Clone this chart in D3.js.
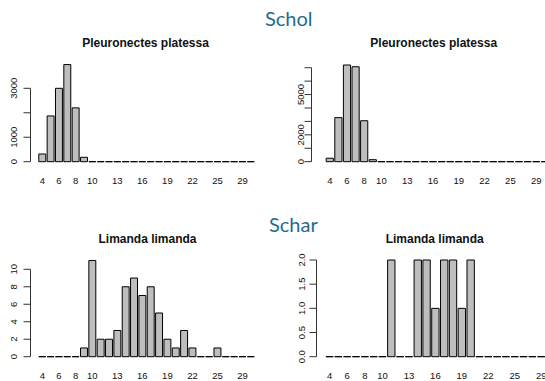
<!DOCTYPE html>
<html>
<head>
<meta charset="utf-8">
<script src="https://cdn.jsdelivr.net/npm/d3@7"></script>
<style>
  body { margin: 0; background: #fff; }
  svg { display: block; }
  .axis-label { font-family: "Liberation Sans", Arial, sans-serif; font-size: 9.5px; fill: #111; }
  .panel-title { font-family: "Liberation Sans", Arial, sans-serif; font-size: 12px; font-weight: bold; fill: #111; }
  .heading { font-family: Lato, "Open Sans", sans-serif; font-size: 20px; fill: #1f6b8e; }
</style>
</head>
<body>
<svg id="chart" width="545" height="381"></svg>
<script>
// length classes (cm) on the x axis; R drops overlapping names
const lengthClasses = [4, 5, 6, 7, 8, 9, 10, 11, 12, 13, 14, 15, 16, 17, 18, 19, 20,
                       21, 22, 23, 24, 25, 26, 27, 29, 30];
const shownNames = [4, 6, 8, 10, 13, 16, 19, 22, 25, 29];

// Schol (Pleuronectes platessa)
const scholLeft  = [315, 1870, 3000, 3970, 2200, 180, 0, 0, 0, 0, 0, 0, 0, 0, 0, 0, 0,
                    0, 0, 0, 0, 0, 0, 0, 0, 0];
const scholRight = [260, 3280, 7200, 7070, 3050, 150, 0, 0, 0, 0, 0, 0, 0, 0, 0, 0, 0,
                    0, 0, 0, 0, 0, 0, 0, 0, 0];

// Schar (Limanda limanda)
const scharLeft  = [0, 0, 0, 0, 0, 1, 11, 2, 2, 3, 8, 9, 7, 8, 5, 2, 1,
                    3, 1, 0, 0, 1, 0, 0, 0, 0];
const scharRight = [0, 0, 0, 0, 0, 0, 0, 2, 0, 0, 2, 2, 1, 2, 2, 1, 2,
                    0, 0, 0, 0, 0, 0, 0, 0, 0];

// y axis ticks and which of them get a label
const scholLeftTicks  = [0, 1000, 2000, 3000];
const scholLeftLabels = [0, 1000, 3000];
const scholRightTicks  = [0, 1000, 2000, 3000, 4000, 5000, 6000, 7000];
const scholRightLabels = [0, 2000, 5000];
const scharLeftTicks  = [0, 2, 4, 6, 8, 10];
const scharLeftLabels = [0, 2, 4, 6, 8, 10];
const scharRightTicks  = [0, 0.5, 1, 1.5, 2];
const scharRightLabels = [0, 0.5, 1, 1.5, 2];

const svg = d3.select('#chart');

// section headings
svg.append('text').attr('class', 'heading')
    .attr('x', 265).attr('y', 26).text('Schol');
svg.append('text').attr('class', 'heading')
    .attr('x', 269).attr('y', 232).text('Schar');

/**
 * Draws one R style barplot
 */
function drawPanel(p) {
    const g = svg.append('g');

    const x = d3.scaleBand()
        .domain(lengthClasses)
        .range(p.xRange)
        .paddingInner(1 / 6)
        .paddingOuter(0);

    const y = d3.scaleLinear()
        .domain([0, p.ticks[p.ticks.length - 1]])
        .range(p.yRange);

    // bars, drawn as paths so that empty classes still show as a line
    g.selectAll('path.bar')
        .data(p.values)
        .enter()
        .append('path')
        .attr('class', 'bar')
        .attr('d', (d, i) => {
            const x0 = x(lengthClasses[i]), x1 = x0 + x.bandwidth();
            return `M${x0},${y(0)}L${x0},${y(d)}L${x1},${y(d)}L${x1},${y(0)}Z`;
        })
        .style('fill', '#bebebe')
        .style('stroke', '#000')
        .style('stroke-width', 1);

    // names under the bars
    g.selectAll('text.xname')
        .data(shownNames)
        .enter()
        .append('text')
        .attr('class', 'axis-label')
        .attr('x', d => x(d) + x.bandwidth() / 2)
        .attr('y', p.nameY)
        .attr('text-anchor', 'middle')
        .text(d => d);

    // y axis
    const yAxis = g.append('g');
    yAxis.append('line')
        .attr('x1', p.axisX).attr('x2', p.axisX)
        .attr('y1', y(0)).attr('y2', y(p.ticks[p.ticks.length - 1]))
        .style('stroke', '#333');
    yAxis.selectAll('line.tick')
        .data(p.ticks)
        .enter()
        .append('line')
        .attr('x1', p.axisX - 7).attr('x2', p.axisX)
        .attr('y1', d => y(d)).attr('y2', d => y(d))
        .style('stroke', '#333');
    yAxis.selectAll('text')
        .data(p.labels)
        .enter()
        .append('text')
        .attr('class', 'axis-label')
        .attr('text-anchor', 'middle')
        .attr('transform', d => `translate(${p.labelX},${y(d)}) rotate(-90)`)
        .text(d => p.fmt(d));

    g.append('text')
        .attr('class', 'panel-title')
        .attr('x', p.titleX).attr('y', p.titleY)
        .attr('text-anchor', 'middle')
        .text(p.title);
}

drawPanel({
    values: scholLeft, ticks: scholLeftTicks, labels: scholLeftLabels,
    fmt: d3.format('d'), title: 'Pleuronectes platessa',
    xRange: [38.8, 254.3], yRange: [161.7, 88.3],
    axisX: 30.5, labelX: 16.8, nameY: 184, titleX: 145.5, titleY: 47
});
drawPanel({
    values: scholRight, ticks: scholRightTicks, labels: scholRightLabels,
    fmt: d3.format('d'), title: 'Pleuronectes platessa',
    xRange: [326.2, 548.4], yRange: [161.7, 67.7],
    axisX: 311.5, labelX: 304, nameY: 184, titleX: 433.7, titleY: 47
});
drawPanel({
    values: scharLeft, ticks: scharLeftTicks, labels: scharLeftLabels,
    fmt: d3.format('d'), title: 'Limanda limanda',
    xRange: [38.8, 254.3], yRange: [356.7, 269.3],
    axisX: 30.5, labelX: 16.8, nameY: 378.5, titleX: 147.5, titleY: 243
});
drawPanel({
    values: scharRight, ticks: scharRightTicks, labels: scharRightLabels,
    fmt: d3.format('.1f'), title: 'Limanda limanda',
    xRange: [325.9, 553.7], yRange: [356.7, 260],
    axisX: 316.5, labelX: 305, nameY: 378.5, titleX: 434.7, titleY: 243
});
</script>
</body>
</html>
